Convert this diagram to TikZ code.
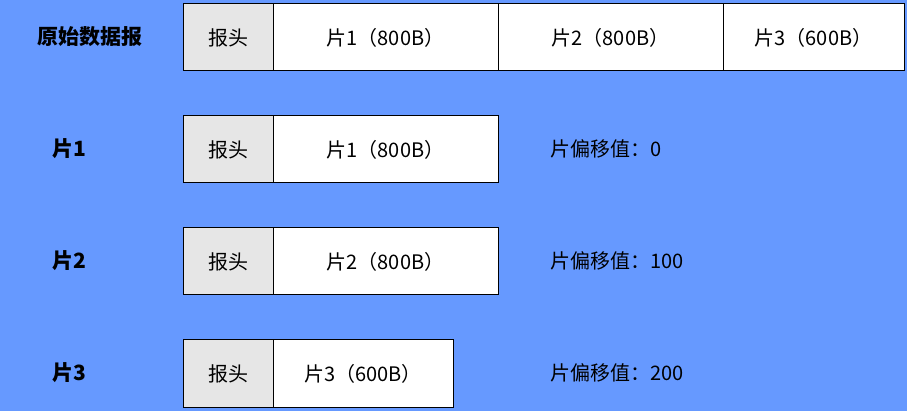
\documentclass[tikz,border=0pt]{standalone}
\usepackage{fontspec}
\newfontfamily\cjk{Noto Sans CJK SC}
\usepackage{tikz}
\usetikzlibrary{positioning}
\definecolor{bgblue}{RGB}{102,153,255}
\definecolor{headgray}{RGB}{230,230,230}
\tikzstyle{hdrbox} = [rectangle, draw, fill=headgray, minimum width=90pt,
    minimum height=67pt, outer sep=0pt, inner sep=0pt, font=\cjk\fontsize{20}{22}\selectfont]
\tikzstyle{piecebox} = [rectangle, draw, fill=white, minimum height=67pt,
    outer sep=0pt, inner sep=0pt, font=\cjk\fontsize{20}{22}\selectfont]
\tikzstyle{rowname} = [font=\cjk\bfseries\fontsize{21}{23}\selectfont, inner sep=0pt]
\tikzstyle{offsetlabel} = [anchor=west, font=\cjk\fontsize{20}{22}\selectfont, inner sep=0pt]

\begin{document}
\begin{tikzpicture}[x=1pt, y=-1pt, line width=1pt]
        % Background
        \fill [bgblue] (0,0) rectangle (907,411);
        \useasboundingbox (0,0) rectangle (907,411);
        % Original datagram
        \node [rowname] (orig) at (90,37) {原始数据报};
        \node [hdrbox, anchor=north west] (orighead) at (183,4) {报头};
        \node [piecebox, minimum width=225pt, right=0pt of orighead] (origone) {片1（800B）};
        \node [piecebox, minimum width=225pt, right=0pt of origone] (origtwo) {片2（800B）};
        \node [piecebox, minimum width=181pt, right=0pt of origtwo] (origthree) {片3（600B）};
        % Fragment 1
        \node [rowname, anchor=west] (one) at (52,149) {片1};
        \node [hdrbox, anchor=north west] (onehead) at (183,116) {报头};
        \node [piecebox, minimum width=225pt, right=0pt of onehead] (onebody) {片1（800B）};
        \node [offsetlabel] (oneoff) at (550,149) {片偏移值：0};
        % Fragment 2
        \node [rowname, anchor=west] (two) at (52,261) {片2};
        \node [hdrbox, anchor=north west] (twohead) at (183,228) {报头};
        \node [piecebox, minimum width=225pt, right=0pt of twohead] (twobody) {片2（800B）};
        \node [offsetlabel] (twooff) at (550,261) {片偏移值：100};
        % Fragment 3
        \node [rowname, anchor=west] (three) at (52,373) {片3};
        \node [hdrbox, anchor=north west] (threehead) at (183,340) {报头};
        \node [piecebox, minimum width=180pt, right=0pt of threehead] (threebody) {片3（600B）};
        \node [offsetlabel] (threeoff) at (550,373) {片偏移值：200};
\end{tikzpicture}
\end{document}
